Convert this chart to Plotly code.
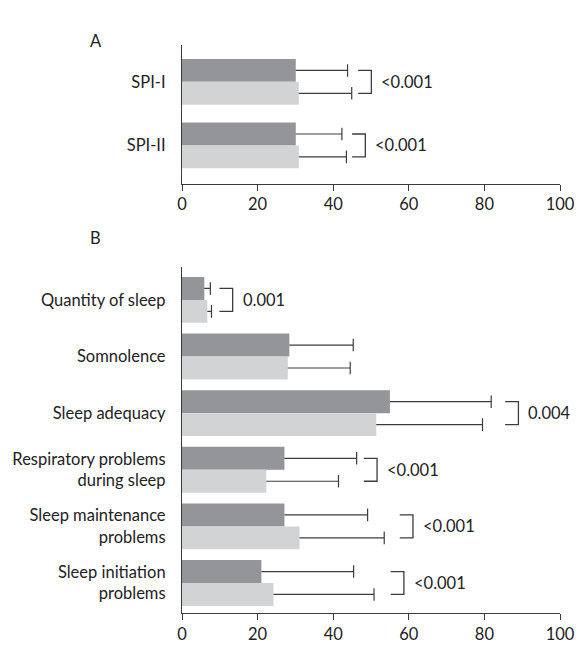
import plotly.graph_objects as go

# ---- Panel A data ----
a_categories = ["SPI-I", "SPI-II"]
a_dark = [30.1, 30.1]
a_dark_sd = [13.7, 12.2]
a_light = [30.9, 30.9]
a_light_sd = [14.0, 12.6]
a_p = ["<0.001", "<0.001"]
a_bracket = [46.6, 45.0]

# ---- Panel B data ----
b_categories = ["Quantity of sleep", "Somnolence", "Sleep adequacy",
                "Respiratory problems<br>during sleep",
                "Sleep maintenance<br>problems",
                "Sleep initiation<br>problems"]
b_dark = [5.9, 28.4, 55.0, 27.1, 27.1, 21.0]
b_dark_sd = [1.6, 16.9, 26.8, 19.1, 22.0, 24.4]
b_light = [6.7, 28.0, 51.4, 22.3, 31.1, 24.2]
b_light_sd = [1.1, 16.5, 28.1, 19.1, 22.4, 26.6]
b_p = ["0.001", None, "0.004", "<0.001", "<0.001", "<0.001"]
b_bracket = [9.9, None, 85.5, 48.1, 57.6, 55.2]

x_ticks = [0, 20, 40, 60, 80, 100]

DARK = "#939598"
LIGHT = "#d1d3d4"
INK = "#3c3c3c"
FONT = "Lato"
FS = 16.5

fig = go.Figure()
shapes = []
annotations = []


def add_panel(cats, dark, dsd, light, lsd, pvals, brackets, bw, xa, ya):
    pos = list(range(len(cats)))
    centers = {}
    for key, vals, sds, color, sign in [("d", dark, dsd, DARK, -1), ("l", light, lsd, LIGHT, 1)]:
        ys = [p + sign * bw / 2 for p in pos]
        centers[key] = ys
        fig.add_trace(go.Bar(x=vals, y=ys, orientation="h", width=bw,
                             marker=dict(color=color, line=dict(width=0)),
                             xaxis=xa, yaxis=ya, showlegend=False, hoverinfo="x"))
        ex, ey = [], []
        for v, s, y in zip(vals, sds, ys):
            ex += [v, v + s, None]
            ey += [y, y, None]
        fig.add_trace(go.Scatter(x=ex, y=ey, mode="lines", line=dict(color=INK, width=1.2),
                                 xaxis=xa, yaxis=ya, showlegend=False, hoverinfo="skip"))
        fig.add_trace(go.Scatter(x=[v + s for v, s in zip(vals, sds)], y=ys, mode="markers",
                                 marker=dict(symbol="line-ns", size=9, line=dict(color=INK, width=1.2)),
                                 xaxis=xa, yaxis=ya, showlegend=False, hoverinfo="skip"))
    xref = "x" if xa == "x" else xa.replace("axis", "")
    yref = "y" if ya == "y" else ya.replace("axis", "")
    for i, (p, bx) in enumerate(zip(pvals, brackets)):
        if p is None:
            continue
        y0 = centers["d"][i]
        y1 = centers["l"][i]
        x1 = bx + 3.5
        shapes.append(dict(type="path", xref=xref, yref=yref,
                           path=f"M {bx},{y0} L {x1},{y0} L {x1},{y1} L {bx},{y1}",
                           line=dict(color=INK, width=1.3)))
        annotations.append(dict(x=x1, y=pos[i], xref=xref, yref=yref, text=p, showarrow=False,
                                xanchor="left", xshift=8, font=dict(family=FONT, size=FS, color="#222")))


add_panel(a_categories, a_dark, a_dark_sd, a_light, a_light_sd, a_p, a_bracket, 0.36, "x", "y")
add_panel(b_categories, b_dark, b_dark_sd, b_light, b_light_sd, b_p, b_bracket, 0.405, "x2", "y2")

xcommon = dict(range=[0, 100], tickvals=x_ticks, ticktext=[str(t) for t in x_ticks],
               showline=True, linecolor=INK, linewidth=1.2, ticks="outside", ticklen=6,
               tickcolor=INK, tickwidth=1.2, showgrid=False, zeroline=False,
               tickfont=dict(family=FONT, size=FS, color="#222"))
ycommon = dict(showline=True, linecolor=INK, linewidth=1.2, ticks="", showgrid=False,
               zeroline=False, ticklabelstandoff=12,
               tickfont=dict(family=FONT, size=FS, color="#222"))

annotations.append(dict(x=-0.25, y=1.029, xref="paper", yref="paper", text="A", showarrow=False,
                        font=dict(family=FONT, size=FS, color="#222")))
annotations.append(dict(x=-0.25, y=0.660, xref="paper", yref="paper", text="B", showarrow=False,
                        font=dict(family=FONT, size=FS, color="#222")))

fig.update_layout(
    width=587, height=656,
    margin=dict(l=178, r=16, t=45, b=29),
    paper_bgcolor="white", plot_bgcolor="white",
    barmode="overlay",
    xaxis=dict(domain=[0, 1], anchor="y", **xcommon),
    yaxis=dict(domain=[0.756, 1], anchor="x", range=[1.6, -0.58],
               tickvals=list(range(len(a_categories))), ticktext=a_categories, **ycommon),
    xaxis2=dict(domain=[0, 1], anchor="y2", **xcommon),
    yaxis2=dict(domain=[0, 0.610], anchor="x2", range=[5.53, -0.59],
                tickvals=list(range(len(b_categories))), ticktext=b_categories, **ycommon),
    shapes=shapes,
    annotations=annotations,
    font=dict(family=FONT, size=FS, color="#222"),
)

fig.write_html("out.html", config={"displayModeBar": False},
               post_script="document.body.style.margin='0px';document.body.style.overflow='hidden';")
